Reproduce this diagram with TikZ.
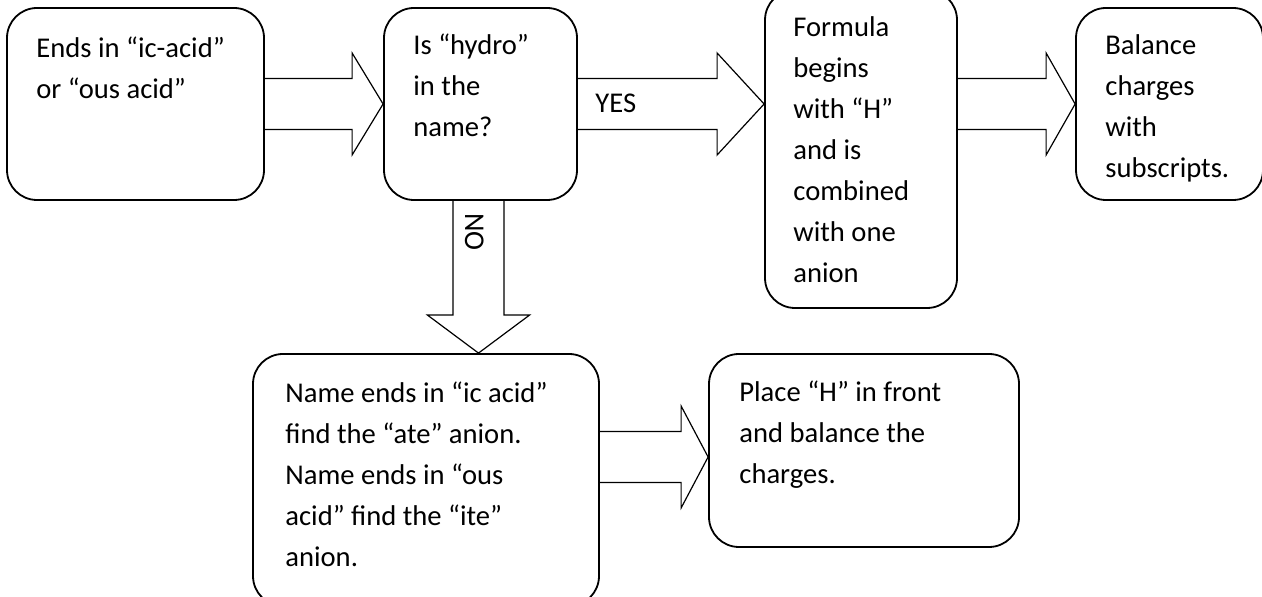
\documentclass[tikz,border=0pt]{standalone}
\usepackage{fontspec}
\setmainfont{Carlito}
\usetikzlibrary{calc}
\tikzset{
  box/.style={draw, line width=0.9pt, rounded corners=15pt, inner sep=0pt, fill=white},
  txt/.style={inner sep=0pt, align=left, anchor=base west, font=\fontsize{14.3pt}{20.5pt}\selectfont},
  arr/.style={draw, line width=0.6pt, line join=miter}
}
\newcommand\harrow[4]{%
  \draw[arr] ($(#1.east|-#3)+(0,-25.5)$) -- ($(#2.west|-#3)+(-#4,-25.5)$)
    -- ($(#2.west|-#3)+(-#4,-51)$) -- (#2.west|-#3)
    -- ($(#2.west|-#3)+(-#4,51)$) -- ($(#2.west|-#3)+(-#4,25.5)$)
    -- ($(#1.east|-#3)+(0,25.5)$);}
\begin{document}
\begin{tikzpicture}[x=0.5pt,y=-0.5pt]
\useasboundingbox (0,0) rectangle (1262,597);
% boxes
\node[box, minimum width=128.5pt, minimum height=96pt] (b1) at (135.5,104) {};
\node[box, minimum width=96.5pt, minimum height=96pt] (b2) at (480.5,104) {};
\node[box, minimum width=96pt, minimum height=159pt] (b3) at (861,149) {};
\node[box, minimum width=93.5pt, minimum height=96pt] (b4) at (1169.5,104) {};
\node[box, minimum width=173pt, minimum height=126pt] (b5) at (426,480) {};
\node[box, minimum width=155pt, minimum height=96.5pt] (b6) at (864,450.5) {};
% texts (anchored at the baseline of their last line)
\node[txt] (t1) at (36,99) {Ends in “ic-acid”\\or “ous acid”};
\node[txt] (t2) at (413,137) {Is “hydro”\\in the\\name?};
\node[txt] (t3) at (793,283) {Formula\\begins\\with “H”\\and is\\combined\\with one\\anion};
\node[txt] (t4) at (1105,178) {Balance\\charges\\with\\subscripts.};
\node[txt] (t5) at (285,567) {Name ends in “ic acid”\\find the “ate” anion.\\Name ends in “ous\\acid” find the “ite”\\anion.};
\node[txt] (t6) at (739,484) {Place “H” in front\\and balance the\\charges.};
% arrow levels
\coordinate (ytop) at (0,104);
\coordinate (ybot) at (0,457);
\harrow{b1}{b2}{ytop}{31}
\harrow{b2}{b3}{ytop}{47}
\harrow{b3}{b4}{ytop}{29}
\harrow{b5}{b6}{ybot}{27}
% vertical NO arrow
\coordinate (xno) at (478.5,0);
\draw[arr] ($(b2.south-|xno)+(-25.5,0)$) -- ($(b5.north-|xno)+(-25.5,-38)$)
  -- ($(b5.north-|xno)+(-51,-38)$) -- (b5.north-|xno)
  -- ($(b5.north-|xno)+(51,-38)$) -- ($(b5.north-|xno)+(25.5,-38)$)
  -- ($(b2.south-|xno)+(25.5,0)$);
% labels
\node[txt] (yes) at (595,113) {YES};
\node[txt, rotate=-90] (no) at (465,213) {NO};
\end{tikzpicture}
\end{document}
